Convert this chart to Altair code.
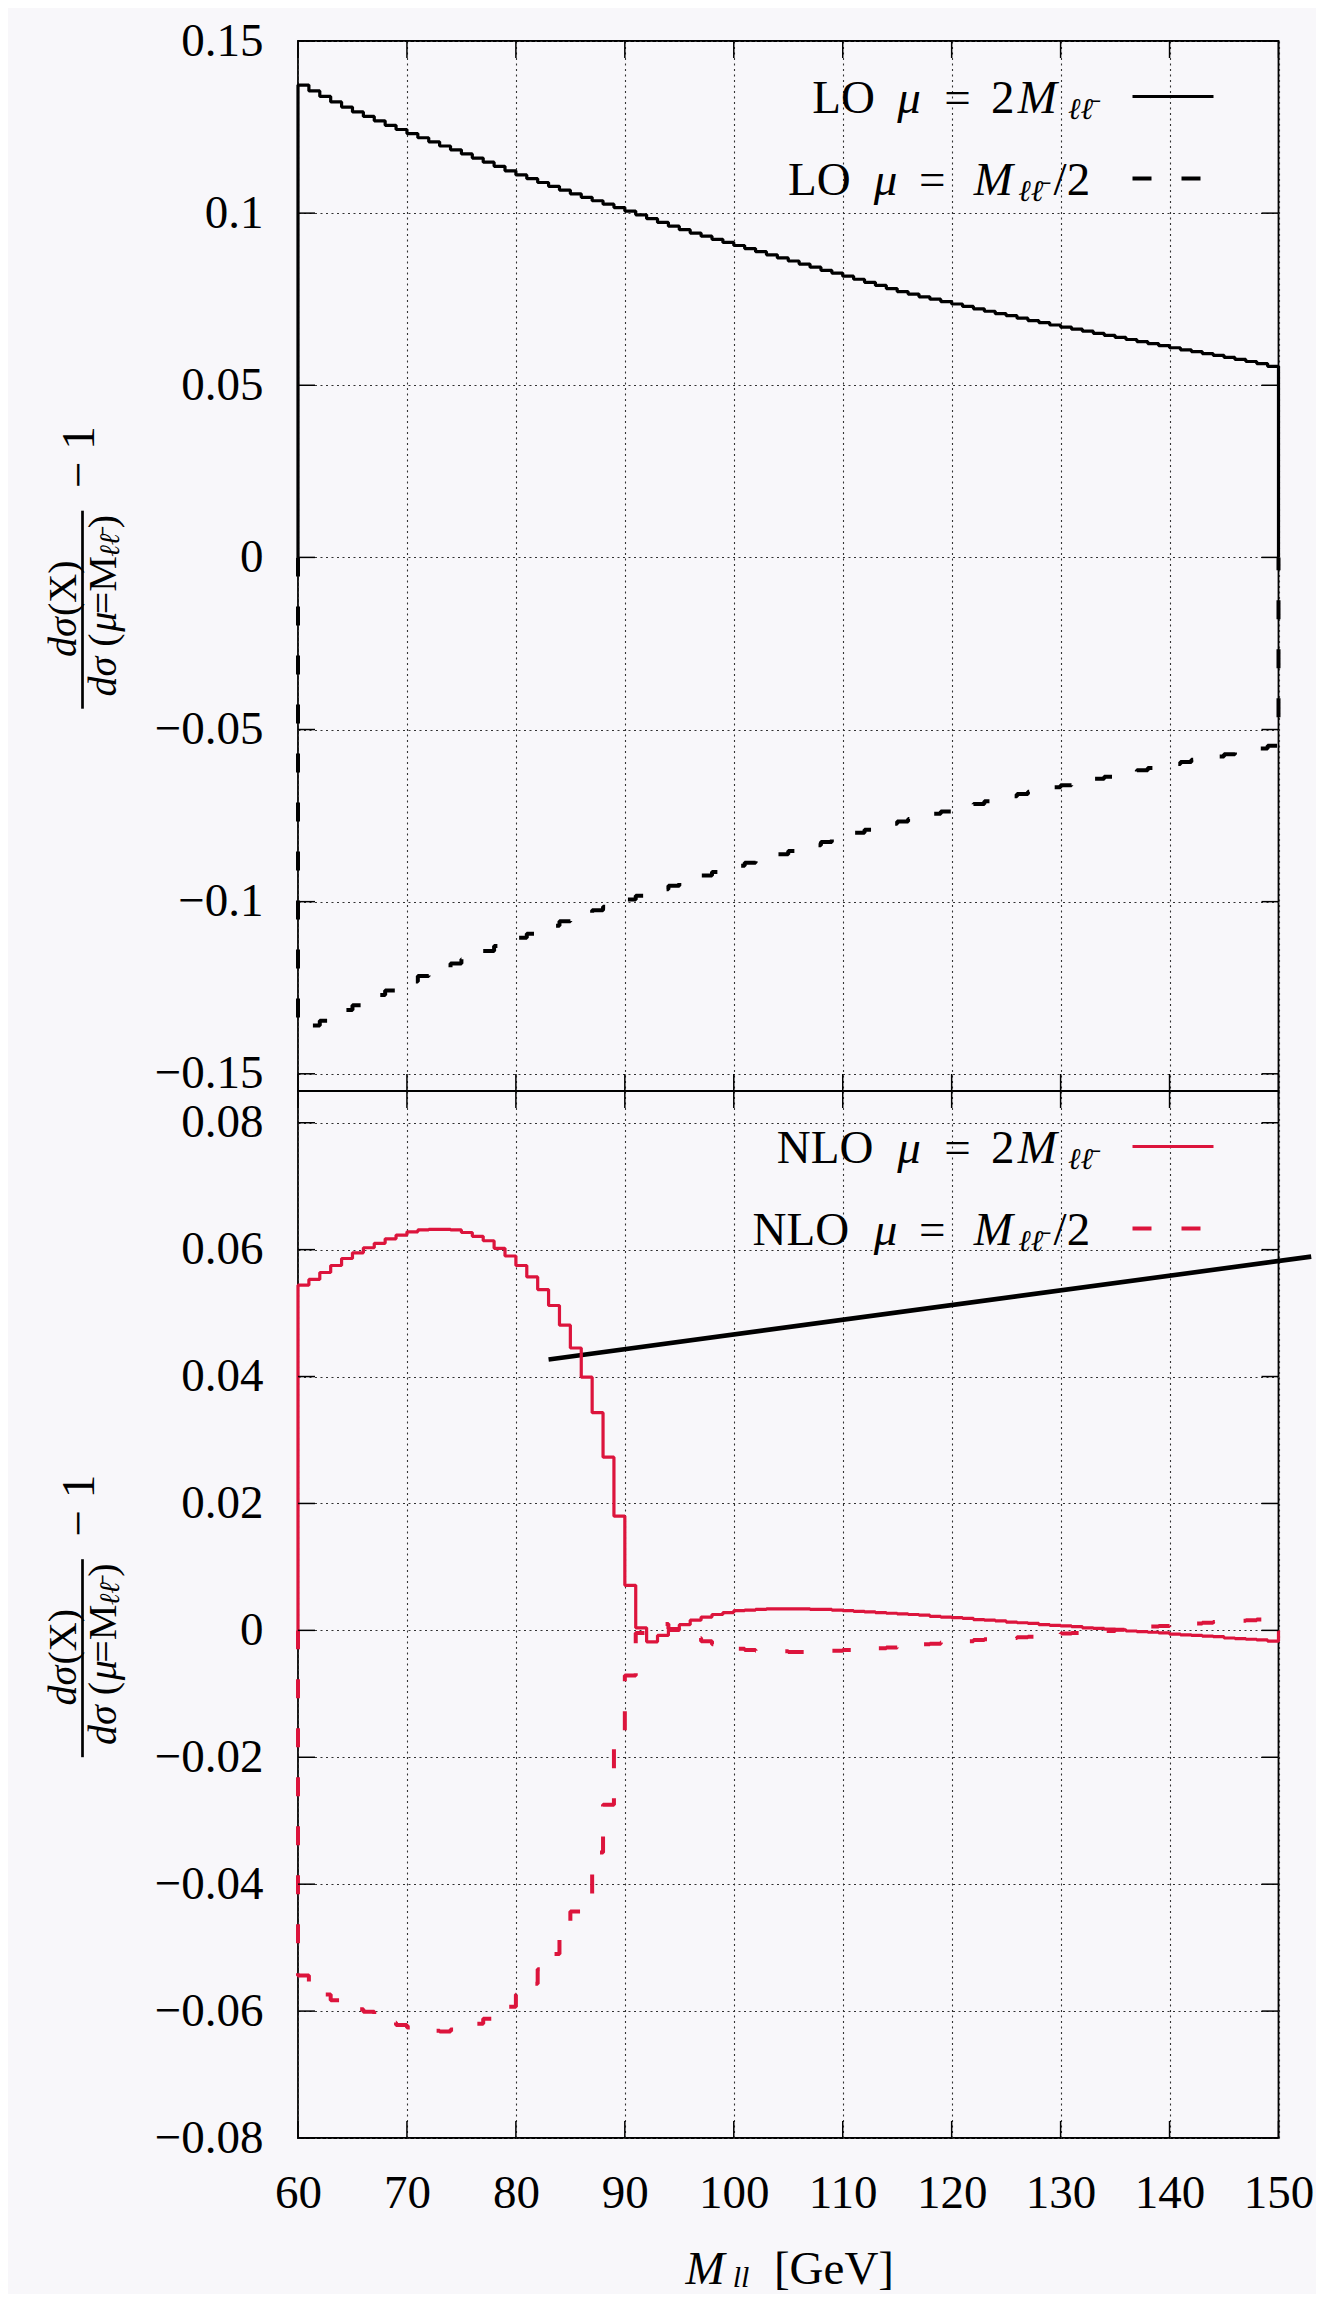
import altair as alt
import pandas as pd

FONT = "Liberation Serif"
RED = "#dc143c"
BG = "#f8f7fa"

# ---------------- data ----------------
x_ticks = [60, 70, 80, 90, 100, 110, 120, 130, 140, 150]
top_y_ticks = [-0.15, -0.1, -0.05, 0, 0.05, 0.1, 0.15]
bot_y_ticks = [-0.08, -0.06, -0.04, -0.02, 0, 0.02, 0.04, 0.06, 0.08]

bin_edges = list(range(60, 150))  # lower edge of each 1 GeV bin

lo_2m = [
    0.1372, 0.1355, 0.1339, 0.1323, 0.1308, 0.1294, 0.1281, 0.1268, 0.1255, 0.1243,
    0.1231, 0.1219, 0.1207, 0.1195, 0.1184, 0.1172, 0.1160, 0.1148, 0.1136, 0.1123,
    0.1111, 0.1100, 0.1089, 0.1078, 0.1067, 0.1056, 0.1046, 0.1036, 0.1026, 0.1016,
    0.1006, 0.0995, 0.0984, 0.0973, 0.0962, 0.0952, 0.0942, 0.0933, 0.0924, 0.0915,
    0.0906, 0.0897, 0.0888, 0.0879, 0.0870, 0.0861, 0.0852, 0.0843, 0.0834, 0.0826,
    0.0817, 0.0808, 0.0799, 0.0790, 0.0781, 0.0772, 0.0765, 0.0757, 0.0750, 0.0743,
    0.0736, 0.0729, 0.0722, 0.0715, 0.0708, 0.0702, 0.0695, 0.0688, 0.0682, 0.0675,
    0.0669, 0.0663, 0.0657, 0.0651, 0.0645, 0.0639, 0.0633, 0.0627, 0.0621, 0.0615,
    0.0609, 0.0603, 0.0598, 0.0592, 0.0587, 0.0581, 0.0575, 0.0569, 0.0563, 0.0555,
]
lo_half = [
    -0.1370, -0.1360, -0.1346, -0.1330, -0.1315, -0.1301, -0.1286, -0.1271, -0.1258, -0.1245,
    -0.1232, -0.1216, -0.1204, -0.1192, -0.1180, -0.1167, -0.1155, -0.1143, -0.1129, -0.1117,
    -0.1105, -0.1093, -0.1082, -0.1070, -0.1057, -0.1046, -0.1036, -0.1025, -0.1015, -0.1004,
    -0.0994, -0.0983, -0.0973, -0.0964, -0.0954, -0.0944, -0.0934, -0.0924, -0.0914, -0.0905,
    -0.0896, -0.0887, -0.0878, -0.0870, -0.0862, -0.0853, -0.0845, -0.0836, -0.0827, -0.0819,
    -0.0810, -0.0800, -0.0791, -0.0782, -0.0774, -0.0767, -0.0760, -0.0752, -0.0745, -0.0738,
    -0.0731, -0.0723, -0.0716, -0.0708, -0.0701, -0.0694, -0.0687, -0.0681, -0.0675, -0.0668,
    -0.0662, -0.0656, -0.0650, -0.0643, -0.0637, -0.0631, -0.0625, -0.0618, -0.0612, -0.0606,
    -0.0600, -0.0594, -0.0588, -0.0583, -0.0578, -0.0572, -0.0566, -0.0560, -0.0555, -0.0547,
]
nlo_2m = [
    0.0544, 0.0553, 0.0564, 0.0575, 0.0586, 0.0595, 0.0603, 0.0610, 0.0617, 0.0623,
    0.0628, 0.0631, 0.0632, 0.0632, 0.0631, 0.0627, 0.0621, 0.0614, 0.0602, 0.0590,
    0.0575, 0.0557, 0.0537, 0.0512, 0.0481, 0.0445, 0.0399, 0.0343, 0.0273, 0.0180,
    0.0071, 0.0004, -0.0018, -0.0008, 0.0000, 0.0009, 0.0016, 0.0021, 0.0025, 0.0028,
    0.0031, 0.0032, 0.0033, 0.0034, 0.0034, 0.0034, 0.0034, 0.0033, 0.0033, 0.0032,
    0.0031, 0.0030, 0.0029, 0.0028, 0.0027, 0.0026, 0.0025, 0.0024, 0.0022, 0.0021,
    0.0020, 0.0019, 0.0017, 0.0016, 0.0015, 0.0013, 0.0012, 0.0011, 0.0009, 0.0008,
    0.0007, 0.0006, 0.0004, 0.0003, 0.0002, 0.0001, -0.0001, -0.0002, -0.0003, -0.0004,
    -0.0006, -0.0007, -0.0008, -0.0009, -0.0010, -0.0012, -0.0013, -0.0014, -0.0015, -0.0017,
]
nlo_half = [
    -0.0544, -0.0560, -0.0574, -0.0583, -0.0591, -0.0597, -0.0601, -0.0606, -0.0618, -0.0622,
    -0.0626, -0.0629, -0.0631, -0.0632, -0.0629, -0.0625, -0.0620, -0.0612, -0.0603, -0.0593,
    -0.0574, -0.0557, -0.0534, -0.0510, -0.0470, -0.0443, -0.0415, -0.0350, -0.0275, -0.0168,
    -0.0071, -0.0004, 0.0008, 0.0010, 0.0002, -0.0006, -0.0012, -0.0017, -0.0022, -0.0026,
    -0.0029, -0.0031, -0.0032, -0.0033, -0.0033, -0.0034, -0.0034, -0.0033, -0.0033, -0.0032,
    -0.0031, -0.0030, -0.0029, -0.0028, -0.0027, -0.0025, -0.0024, -0.0022, -0.0021, -0.0019,
    -0.0018, -0.0017, -0.0015, -0.0014, -0.0013, -0.0012, -0.0011, -0.0010, -0.0008, -0.0007,
    -0.0005, -0.0004, -0.0003, -0.0002, -0.0001, 0.0001, 0.0003, 0.0005, 0.0006, 0.0007,
    0.0008, 0.0009, 0.0011, 0.0012, 0.0013, 0.0014, 0.0015, 0.0016, 0.0017, 0.0017,
]

# stray straight line drawn in the lower panel
guide_x = [83.0, 153.0]
guide_y = [0.0427, 0.0589]

# ---------------- layout constants ----------------
W = 980.5
H_TOP = 1050
H_BOT = 1047
AXIS_EXT = 288.5
TICK = 17

one = pd.DataFrame({"k": [0]})


def hist_path(values):
    xs = [60] + bin_edges + [150, 150]
    ys = [0] + list(values) + [values[-1], 0]
    return pd.DataFrame({"x": xs, "y": ys, "i": list(range(len(xs)))})


def x_enc(show_labels):
    if show_labels:
        ax = alt.Axis(values=x_ticks, labels=True, ticks=False, tickSize=0, domain=False,
                      grid=True, title=None, labelFont=FONT, labelFontSize=47,
                      labelPadding=32, labelFlush=False, labelOverlap=False,
                      labelColor="black", format="d")
    else:
        ax = alt.Axis(values=x_ticks, labels=False, ticks=False, tickSize=0, domain=False,
                      grid=True, title=None, minExtent=0, maxExtent=0)
    return alt.X("x:Q", scale=alt.Scale(domain=[60, 150], nice=False, zero=False), axis=ax)


def y_enc(domain, ticks):
    ax = alt.Axis(values=ticks, format=".2~f", ticks=False, tickSize=0, domain=False,
                  grid=True, title=None, labelFont=FONT, labelFontSize=47,
                  labelPadding=35, labelFlush=False, labelOverlap=False,
                  labelColor="black", minExtent=AXIS_EXT, maxExtent=AXIS_EXT)
    return alt.Y("y:Q", scale=alt.Scale(domain=domain, nice=False, zero=False), axis=ax)


def series(values, color, dashed, xe, ye):
    kw = dict(color=color, strokeWidth=3.2, interpolate="step-after", strokeJoin="bevel")
    if dashed:
        kw["strokeDash"] = [19, 30]
        kw["strokeWidth"] = 4
    return alt.Chart(hist_path(values)).mark_line(**kw).encode(
        x=xe, y=ye, order=alt.Order("i:Q"))


def txt(s, x, y, size=47, style="normal", angle=0, align="center", baseline="alphabetic"):
    return alt.Chart(one).mark_text(
        text=s, font=FONT, fontSize=size, fontStyle=style, angle=angle,
        align=align, baseline=baseline, color="black").encode(
        x=alt.value(x), y=alt.value(y))


def rule_px(x1, x2, y1, y2, color="black", width=1.5, dash=None):
    kw = dict(color=color, strokeWidth=width)
    if dash:
        kw["strokeDash"] = dash
    return alt.Chart(one).mark_rule(**kw).encode(
        x=alt.value(x1), x2=alt.value(x2), y=alt.value(y1), y2=alt.value(y2))


def tick_layers(H, xe, ye, yticks):
    dx = pd.DataFrame({"x": x_ticks})
    dy = pd.DataFrame({"y": yticks})
    return [
        alt.Chart(dx).mark_rule(color="black", strokeWidth=1.5).encode(
            x=xe, y=alt.value(0), y2=alt.value(TICK)),
        alt.Chart(dx).mark_rule(color="black", strokeWidth=1.5).encode(
            x=xe, y=alt.value(H - TICK), y2=alt.value(H)),
        alt.Chart(dy).mark_rule(color="black", strokeWidth=1.5).encode(
            y=ye, x=alt.value(0), x2=alt.value(TICK)),
        alt.Chart(dy).mark_rule(color="black", strokeWidth=1.5).encode(
            y=ye, x=alt.value(W - TICK), x2=alt.value(W)),
    ]


def y_title(H):
    c = H / 2.0
    xn, xd = -234.5, -194.5
    return [
        txt("dσ", xn, c + 71.2, 40, "italic", 270, "center", "middle"),
        txt("(X)", xn, c + 22.2, 40, "normal", 270, "center", "middle"),
        rule_px(-215.5, -215.5, c - 55.3, c + 142.7, width=2.7),
        txt("dσ", xd, c + 110.7, 40, "italic", 270, "center", "middle"),
        txt("(", xd, c + 74.2, 40, "normal", 270, "center", "middle"),
        txt("μ", xd, c + 55.7, 40, "italic", 270, "center", "middle"),
        txt("=M", xd, c + 19.2, 40, "normal", 270, "center", "middle"),
        txt("ℓℓ\u0304", -187, c - 20.8, 28, "italic", 270, "center", "middle"),
        txt(")", xd, c - 44.3, 40, "normal", 270, "center", "middle"),
        txt("− 1", -218.5, c - 108.8, 47, "normal", 270, "center", "middle"),
    ]


ROW1, ROW2 = 55.5, 137.5
SX1, SX2 = 834.5, 915.5


def legend(prefix, c1, c2, color):
    b1, b2 = ROW1 + 16, ROW2 + 16
    return [
        txt(prefix, c1, b1),
        txt("μ", 611.1, b1, style="italic"),
        txt("=", 659.5, b1),
        txt("2", 704.8, b1),
        txt("M", 739.3, b1, style="italic"),
        txt("ℓℓ\u0304", 782.5, ROW1 + 22, 30, "italic"),
        rule_px(SX1, SX2, ROW1, ROW1, color=color, width=3.2),
        txt(prefix, c2, b2),
        txt("μ", 587.5, b2, style="italic"),
        txt("=", 634.3, b2),
        txt("M", 695.3, b2, style="italic"),
        txt("ℓℓ\u0304", 732.8, ROW2 + 22, 30, "italic"),
        txt("/2", 773.9, b2),
        rule_px(SX1, SX2, ROW2, ROW2, color=color, width=4, dash=[19, 30]),
    ]


# ---------------- top panel ----------------
xt = x_enc(False)
yt = y_enc([-0.155, 0.15], top_y_ticks)
top_layers = [
    series(lo_2m, "black", False, xt, yt),
    series(lo_half, "black", True, xt, yt),
] + tick_layers(H_TOP, xt, yt, top_y_ticks) + legend("LO", 545.5, 521.3, "black") + y_title(H_TOP)
top = alt.layer(*top_layers).properties(width=W, height=H_TOP)

# ---------------- bottom panel ----------------
xb = x_enc(True)
yb = y_enc([-0.08, 0.085], bot_y_ticks)
guide_df = pd.DataFrame({"x": guide_x, "y": guide_y})
bot_layers = [
    alt.Chart(guide_df).mark_line(color="black", strokeWidth=4.6, strokeJoin="round",
                                  strokeCap="butt").encode(x=xb, y=yb),
    series(nlo_2m, RED, False, xb, yb),
    series(nlo_half, RED, True, xb, yb),
] + tick_layers(H_BOT, xb, yb, bot_y_ticks) + legend("NLO", 527.1, 502.9, RED) + y_title(H_BOT) + [
    txt("M", 407, 1193, 47, "italic"),
    txt("ll", 443, 1196, 30, "italic"),
    txt("[GeV]", 536, 1193, 47, "normal"),
]
bottom = alt.layer(*bot_layers).properties(width=W, height=H_BOT)

chart = alt.vconcat(top, bottom, spacing=0, bounds="flush").resolve_scale(
    x="independent", y="independent"
).properties(
    padding={"left": 0, "top": 8, "right": 0, "bottom": 0},
    background=BG,
).configure_view(
    stroke="black", strokeWidth=1.8, fill=BG
).configure_axis(
    gridColor="#333333", gridDash=[2, 3.5], gridWidth=1.1, gridOpacity=1,
    labelFont=FONT, labelFontSize=47, labelColor="black"
)

chart.save("out.html", embed_options={"renderer": "svg", "actions": False})
